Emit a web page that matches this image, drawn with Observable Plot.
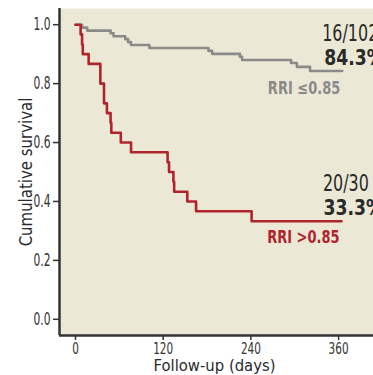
<!DOCTYPE html>
<html><head><meta charset="utf-8">
<script src="https://cdn.jsdelivr.net/npm/d3@7"></script>
<script src="https://cdn.jsdelivr.net/npm/@observablehq/plot@0.6"></script>
<style>
html,body{margin:0;padding:0;background:#fff;}
</style></head><body>
<div id="chart"></div>
<script>
// Kaplan–Meier step data (days, cumulative survival)
const lowTimes = [0, 9, 16, 48, 52, 68, 72, 76, 101, 182, 187, 225, 228, 295, 303, 321, 365];
const lowSurvival = [1.0, 0.990, 0.980, 0.971, 0.961, 0.951, 0.941, 0.931, 0.921, 0.911, 0.901, 0.891, 0.880, 0.870, 0.857, 0.843, 0.843];
const highTimes = [0, 7, 9, 10, 18, 34, 39, 43, 48, 49, 62, 76, 126, 128, 134, 135, 153, 165, 241, 364];
const highSurvival = [1.0, 0.967, 0.933, 0.9, 0.867, 0.8, 0.733, 0.7, 0.667, 0.633, 0.6, 0.567, 0.533, 0.5, 0.467, 0.433, 0.4, 0.367, 0.333, 0.333];
const groups = ["RRI \u22640.85", "RRI >0.85"];
const eventCounts = ["16/102", "20/30"];
const finalSurvival = ["84.3%", "33.3%"];
const xTicks = [0, 120, 240, 360];
const yTicks = [0, 0.2, 0.4, 0.6, 0.8, 1.0];
const xTitle = "Follow-up (days)";
const yTitle = "Cumulative survival";

const FONT = "'DejaVu Sans Condensed','Liberation Sans Narrow','Roboto Condensed',sans-serif";
const GRAY = "#8A8A8A", RED = "#B0242C", INK = "#2a2a2a", AX = "#333";
const xDom = [-21.9, 407.8], yDom = [-0.055, 1.055];
const fmtY = d3.format(".1f");

const low = lowTimes.map((t, i) => ({time: t, surv: lowSurvival[i]}));
const high = highTimes.map((t, i) => ({time: t, surv: highSurvival[i]}));
const lowEnd = [low[low.length - 1]];
const highEnd = [high[high.length - 1]];

const chart = Plot.plot({
  width: 373, height: 375,
  marginLeft: 59, marginRight: 0, marginTop: 8, marginBottom: 40,
  style: {fontFamily: FONT, color: INK, background: "transparent", overflow: "hidden"},
  x: {domain: xDom},
  y: {domain: yDom},
  marks: [
    Plot.frame({fill: "#ECE8D6", stroke: null}),
    Plot.axisY({ticks: yTicks, tickFormat: () => "", tickSize: 6, label: null, stroke: AX, strokeWidth: 1.5}),
    Plot.axisX({ticks: xTicks, tickFormat: () => "", tickSize: 5, label: null, stroke: AX, strokeWidth: 1.5}),
    Plot.text(yTicks, {frameAnchor: "left", y: d => d, text: d => fmtY(d), textAnchor: "end", lineAnchor: "middle", dx: -9, fontSize: 18, fill: AX}),
    Plot.text(xTicks, {frameAnchor: "bottom", x: d => d, text: d => String(d), textAnchor: "middle", lineAnchor: "top", dy: 7.5, fontSize: 15.5, fill: AX}),
    Plot.ruleX([xDom[0]], {stroke: AX, strokeWidth: 2.5}),
    Plot.ruleY([yDom[0]], {stroke: AX, strokeWidth: 2.5}),
    Plot.line(low, {x: "time", y: "surv", curve: "step-after", stroke: GRAY, strokeWidth: 2.6}),
    Plot.line(high, {x: "time", y: "surv", curve: "step-after", stroke: RED, strokeWidth: 2.6}),
    // annotations for low RRI group
    Plot.text(lowEnd, {x: "time", y: "surv", text: () => eventCounts[0], textAnchor: "start", lineAnchor: "bottom", dx: -20, dy: -30, fontSize: 23, fill: INK}),
    Plot.text(lowEnd, {x: "time", y: "surv", text: () => finalSurvival[0], textAnchor: "start", lineAnchor: "bottom", dx: -18, dy: -6, fontSize: 22, fontWeight: "bold", fill: INK}),
    Plot.text(lowEnd, {x: "time", y: "surv", text: () => groups[0], textAnchor: "end", lineAnchor: "bottom", dx: -2, dy: 23.5, fontSize: 17, fontWeight: "bold", fill: GRAY}),
    // annotations for high RRI group
    Plot.text(highEnd, {x: "time", y: "surv", text: () => eventCounts[1], textAnchor: "start", lineAnchor: "bottom", dx: -18.6, dy: -30, fontSize: 23, fill: INK}),
    Plot.text(highEnd, {x: "time", y: "surv", text: () => finalSurvival[1], textAnchor: "start", lineAnchor: "bottom", dx: -18, dy: -6.4, fontSize: 22, fontWeight: "bold", fill: INK}),
    Plot.text(highEnd, {x: "time", y: "surv", text: () => groups[1], textAnchor: "end", lineAnchor: "bottom", dx: -2, dy: 21.6, fontSize: 17, fontWeight: "bold", fill: RED}),
    // axis titles
    Plot.text([yTitle], {frameAnchor: "left", textAnchor: "middle", lineAnchor: "middle", rotate: -90, dx: -33.6, fontSize: 17.5, fill: INK}),
    Plot.text([xTitle], {frameAnchor: "bottom", textAnchor: "middle", lineAnchor: "bottom", dx: -2, dy: 35.5, fontSize: 16.5, fill: INK})
  ]
});
document.getElementById("chart").appendChild(chart);

// condensed lettering: shrink each text's advance width, keeping its anchor
const squeeze = new Map();
yTicks.forEach(d => squeeze.set(fmtY(d), 0.66));
xTicks.forEach(d => squeeze.set(String(d), 0.75));
eventCounts.forEach(s => squeeze.set(s, 0.77));
finalSurvival.forEach(s => squeeze.set(s, 0.87));
groups.forEach(s => squeeze.set(s, 0.85));
squeeze.set(xTitle, 1.0); squeeze.set(yTitle, 0.95);
chart.querySelectorAll("text").forEach(t => {
  const f = squeeze.get(t.textContent.trim());
  if (!f || f === 1) return;
  const len = t.getComputedTextLength();
  if (len > 0) {
    t.setAttribute("textLength", (len * f).toFixed(2));
    t.setAttribute("lengthAdjust", "spacingAndGlyphs");
  }
});
</script>
</body></html>
